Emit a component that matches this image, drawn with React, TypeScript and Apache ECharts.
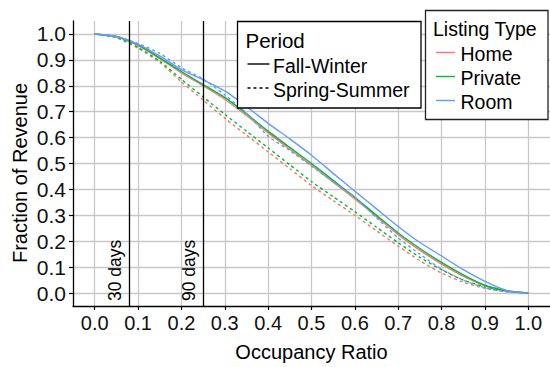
import React, { useEffect, useRef } from "react";
import * as echarts from "echarts";

const occupancy = [0, 0.05, 0.1, 0.15, 0.2, 0.25, 0.3, 0.35, 0.4, 0.45, 0.5, 0.55, 0.6, 0.65, 0.7, 0.75, 0.8, 0.85, 0.9, 0.95, 1.0];

const homeFallWinter = [1.0, 0.99, 0.955, 0.905, 0.85, 0.8, 0.748, 0.685, 0.618, 0.555, 0.493, 0.428, 0.363, 0.295, 0.225, 0.165, 0.112, 0.065, 0.028, 0.008, 0];
const privateFallWinter = [1.0, 0.99, 0.958, 0.908, 0.855, 0.805, 0.755, 0.692, 0.625, 0.562, 0.5, 0.435, 0.37, 0.3, 0.232, 0.172, 0.118, 0.07, 0.03, 0.009, 0];
const roomFallWinter = [1.0, 0.99, 0.96, 0.915, 0.862, 0.823, 0.78, 0.72, 0.655, 0.595, 0.532, 0.462, 0.393, 0.325, 0.257, 0.195, 0.143, 0.09, 0.045, 0.01, 0];

const homeSpringSummer = [1.0, 0.985, 0.945, 0.89, 0.815, 0.745, 0.675, 0.61, 0.545, 0.48, 0.415, 0.357, 0.3, 0.24, 0.181, 0.125, 0.077, 0.042, 0.018, 0.005, 0];
const privateSpringSummer = [1.0, 0.987, 0.948, 0.895, 0.825, 0.757, 0.69, 0.625, 0.56, 0.495, 0.43, 0.372, 0.314, 0.254, 0.194, 0.138, 0.09, 0.05, 0.024, 0.007, 0];
const roomSpringSummer = [1.0, 0.99, 0.963, 0.925, 0.87, 0.826, 0.765, 0.695, 0.605, 0.55, 0.49, 0.43, 0.37, 0.29, 0.213, 0.15, 0.092, 0.05, 0.02, 0.005, 0];

const tickValues = [0, 0.1, 0.2, 0.3, 0.4, 0.5, 0.6, 0.7, 0.8, 0.9, 1.0];
const markers = [
  { label: "30 days", days: 30 },
  { label: "90 days", days: 90 },
];
const listingTypes = ["Home", "Private", "Room"];
const periods = ["Fall-Winter", "Spring-Summer"];
const colors = ["#F8766D", "#00BA38", "#619CFF"];

const FONT = "Liberation Sans";

export default function App() {
  const ref = useRef<HTMLDivElement>(null);

  useEffect(() => {
    document.body.style.margin = "0";
    const chart = echarts.init(ref.current!, null, { renderer: "svg" });

    const pairs = (vals: number[]) => occupancy.map((x, i) => [x, vals[i]]);
    const groups = [
      { name: "Home", fw: homeFallWinter, ss: homeSpringSummer, color: colors[0] },
      { name: "Private", fw: privateFallWinter, ss: privateSpringSummer, color: colors[1] },
      { name: "Room", fw: roomFallWinter, ss: roomSpringSummer, color: colors[2] },
    ];

    const series: any[] = [];
    groups.forEach((g) => {
      series.push({
        type: "line",
        name: g.name + " " + periods[0],
        data: pairs(g.fw),
        showSymbol: false,
        smooth: 0.2,
        lineStyle: { color: g.color, width: 1.4, type: "solid" },
        z: 3,
      });
      series.push({
        type: "line",
        name: g.name + " " + periods[1],
        data: pairs(g.ss),
        showSymbol: false,
        smooth: 0.2,
        lineStyle: { color: g.color, width: 1.4, type: [3, 3] },
        z: 3,
      });
    });

    series.push({
      type: "line",
      name: "markers",
      data: [],
      markLine: {
        silent: true,
        symbol: "none",
        lineStyle: { color: "#000", width: 1.3, type: "solid" },
        label: {
          show: true,
          position: "insideStartTop",
          formatter: (p: any) => p.name,
          fontFamily: FONT,
          fontSize: 17.5,
          color: "#000",
          distance: 5,
        },
        data: markers.map((m) => ({ name: m.label, xAxis: m.days / 365 })),
      },
      z: 4,
    });

    const legendFont = 19.5;
    const graphic: any[] = [
      {
        type: "text",
        z: 50,
        rotation: Math.PI / 2,
        x: 20,
        y: 173,
        style: { text: "Fraction of Revenue", x: 0, y: 0, fontFamily: FONT, fontSize: 20, fill: "#000", align: "center", verticalAlign: "middle" },
      },
      {
        type: "rect",
        z: 100,
        shape: { x: 237.5, y: 21.5, width: 183.5, height: 86.5 },
        style: { fill: "#fff", stroke: "#000", lineWidth: 1.3 },
      },
      {
        type: "text",
        z: 101,
        style: { text: "Period", x: 245.5, y: 40, fontFamily: FONT, fontSize: 20.5, fill: "#000", verticalAlign: "middle" },
      },
      {
        type: "line",
        z: 101,
        shape: { x1: 247.5, y1: 64, x2: 269.5, y2: 64 },
        style: { stroke: "#000", lineWidth: 1.4 },
      },
      {
        type: "text",
        z: 101,
        style: { text: periods[0], x: 273, y: 65.5, fontFamily: FONT, fontSize: legendFont, fill: "#000", verticalAlign: "middle" },
      },
      {
        type: "line",
        z: 101,
        shape: { x1: 247.5, y1: 88, x2: 269.5, y2: 88 },
        style: { stroke: "#000", lineWidth: 1.4, lineDash: [3, 3] },
      },
      {
        type: "text",
        z: 101,
        style: { text: periods[1], x: 273, y: 89.5, fontFamily: FONT, fontSize: legendFont, fill: "#000", verticalAlign: "middle" },
      },
      {
        type: "rect",
        z: 100,
        shape: { x: 425.5, y: 10.5, width: 122.5, height: 109 },
        style: { fill: "#fff", stroke: "#222", lineWidth: 1.3 },
      },
      {
        type: "text",
        z: 101,
        style: { text: "Listing Type", x: 433, y: 28.5, fontFamily: FONT, fontSize: legendFont, fill: "#000", verticalAlign: "middle" },
      },
    ];
    listingTypes.forEach((t, i) => {
      const y = 52.5 + i * 24;
      graphic.push({
        type: "line",
        z: 101,
        shape: { x1: 436, y1: y, x2: 455, y2: y },
        style: { stroke: colors[i], lineWidth: 1.4 },
      });
      graphic.push({
        type: "text",
        z: 101,
        style: { text: t, x: 460.5, y: y + 1, fontFamily: FONT, fontSize: legendFont, fill: "#000", verticalAlign: "middle" },
      });
    });

    const axisCommon = {
      type: "value" as const,
      min: -0.05,
      max: 1.05,
      axisLine: { show: true, onZero: false, lineStyle: { color: "#000", width: 1.3 } },
      axisTick: { show: true, length: 4, customValues: tickValues, lineStyle: { color: "#000", width: 1.2 } },
      splitLine: { show: true, lineStyle: { color: "#c8c8c8", width: 1.3 } },
      minorSplitLine: { show: false },
    };

    chart.setOption({
      animation: false,
      grid: { left: 73, right: 0, top: 21, bottom: 56, containLabel: false },
      xAxis: {
        ...axisCommon,
        name: "Occupancy Ratio",
        nameLocation: "middle",
        nameGap: 36,
        nameTextStyle: { fontFamily: FONT, fontSize: 20, color: "#000" },
        axisLabel: {
          customValues: tickValues,
          formatter: (v: number) => v.toFixed(1),
          fontFamily: FONT,
          fontSize: 20,
          color: "#111",
          margin: 7,
        },
      },
      yAxis: {
        ...axisCommon,
        axisLabel: {
          customValues: tickValues,
          formatter: (v: number) => v.toFixed(1),
          fontFamily: FONT,
          fontSize: 21,
          color: "#111",
          margin: 7,
        },
      },
      series,
      graphic,
    });

    return () => chart.dispose();
  }, []);

  return <div ref={ref} style={{ width: 550, height: 367 }} />;
}
